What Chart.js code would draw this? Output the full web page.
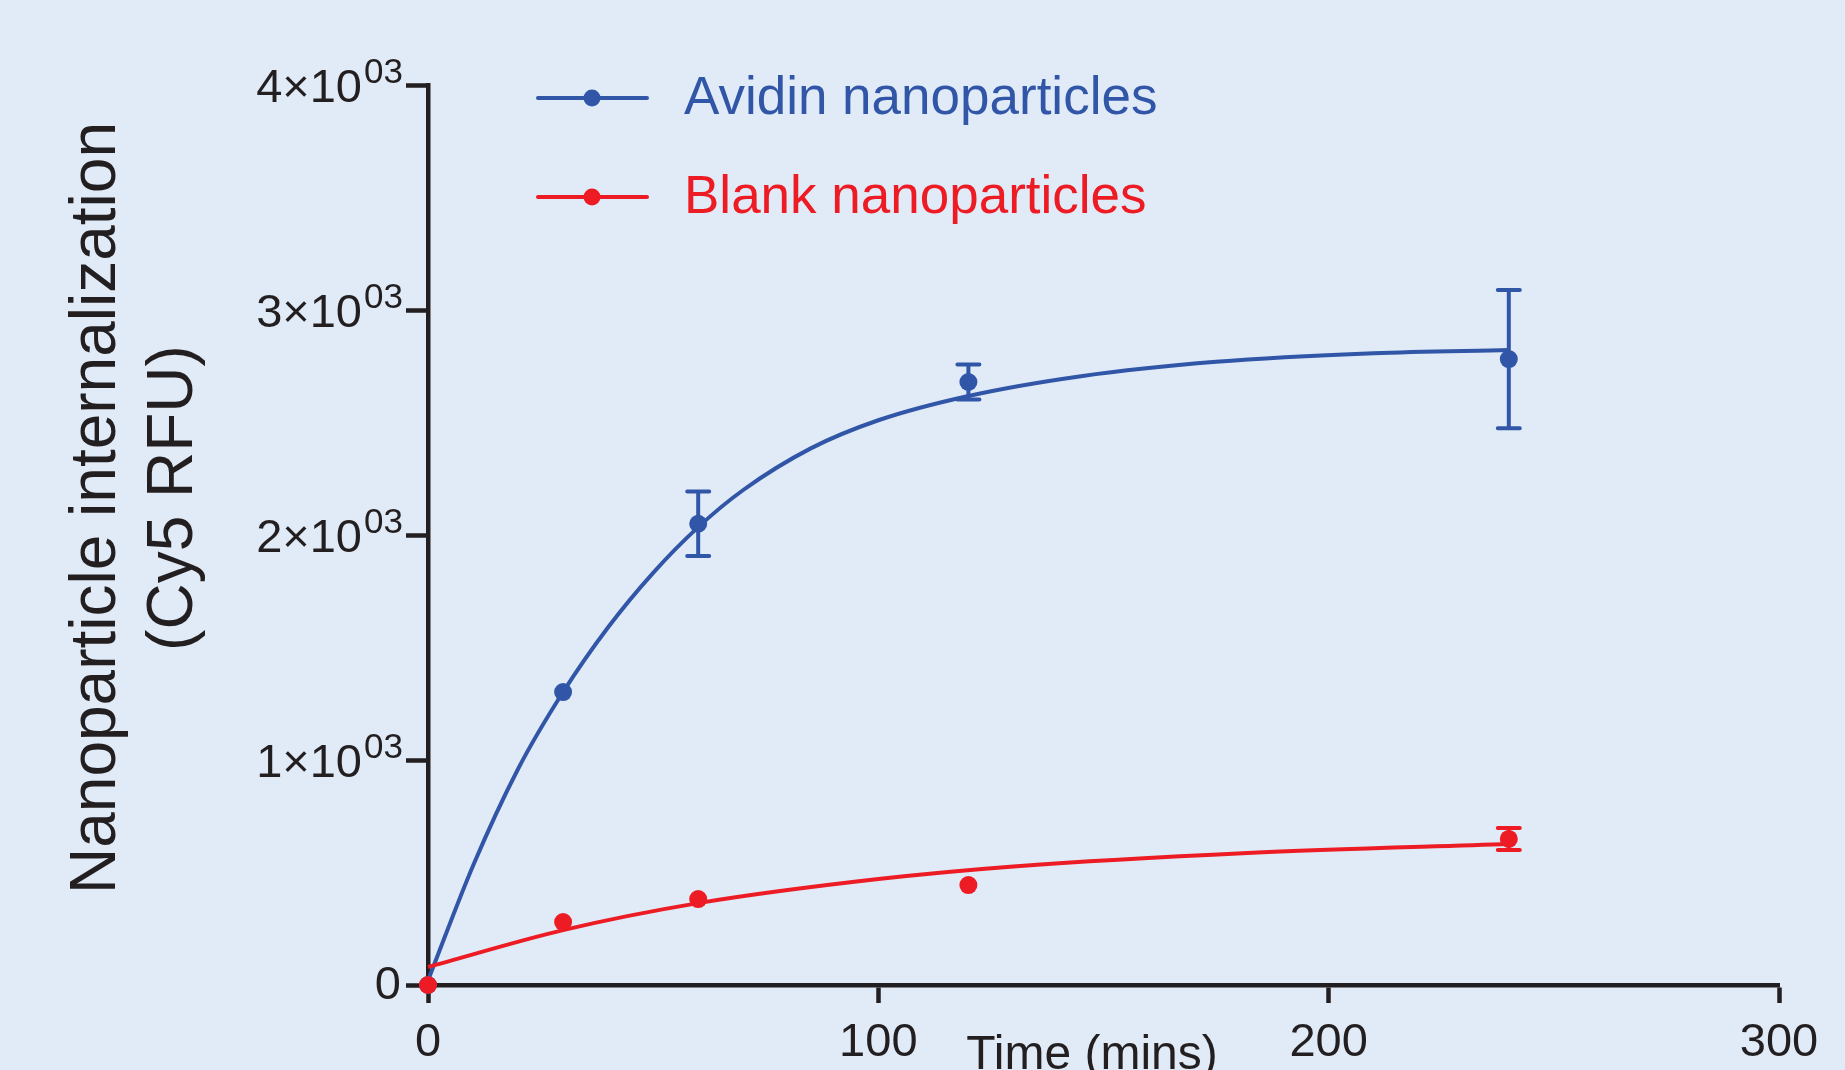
<!DOCTYPE html>
<html>
<head>
<meta charset="utf-8">
<title>Nanoparticle internalization</title>
<script src="https://cdn.jsdelivr.net/npm/chart.js@4.4.1/dist/chart.umd.min.js"></script>
<style>
    html, body { margin: 0; padding: 0; background: #e0ebf7; }
    #wrap { width: 1845px; height: 1070px; }
</style>
</head>
<body>
<div id="wrap"><canvas id="uptakeChart" width="1845" height="1070"></canvas></div>
<script>
// ── Measured data (mean ± SEM) ──
const timePoints = [0, 30, 60, 120, 240];
const avidinMean = [0, 1302, 2050, 2680, 2782];
const avidinErr  = [0, 0, 143, 78, 307];
const blankMean  = [0, 280, 382, 444, 649];
const blankErr   = [0, 0, 0, 0, 49];

// ── Fitted curves ──
const avidinFitTime = [0, 10, 20, 30, 40, 50, 60, 70, 85, 100, 120, 145, 175, 210, 240];
const avidinFitVal  = [20, 530, 960, 1302, 1590, 1832, 2035, 2200, 2385, 2510, 2618, 2706, 2770, 2808, 2822];
const blankFitTime  = [0, 30, 60, 100, 130, 182, 240];
const blankFitVal   = [80, 244, 364, 471, 527, 587, 627];

// ── Axis ticks ──
const xTicks = [0, 100, 200, 300];
const yTicks = [0, 1000, 2000, 3000, 4000];
const yTickBase = '×10';
const yTickExp = '03';

const seriesNames = ['Avidin nanoparticles', 'Blank nanoparticles'];
const BLUE = '#3156a8';
const RED = '#ed1c24';
const INK = '#231f20';
const FONT = '"Liberation Sans", Arial, sans-serif';

const toXY = (xs, ys) => xs.map((x, i) => ({ x: x, y: ys[i] }));

// ── Error bars drawn through the scales ──
const errorBarPlugin = {
    id: 'errorBars',
    afterDatasetsDraw(chart) {
        const { ctx, scales: { x, y } } = chart;
        const sets = [
            { mean: avidinMean, err: avidinErr, color: BLUE },
            { mean: blankMean, err: blankErr, color: RED }
        ];
        ctx.save();
        ctx.lineWidth = 4;
        ctx.lineCap = 'round';
        sets.forEach(s => {
            ctx.strokeStyle = s.color;
            timePoints.forEach((t, i) => {
                if (!s.err[i]) return;
                const px = x.getPixelForValue(t);
                const top = y.getPixelForValue(s.mean[i] + s.err[i]);
                const bot = y.getPixelForValue(s.mean[i] - s.err[i]);
                ctx.beginPath();
                ctx.moveTo(px, top); ctx.lineTo(px, bot);
                ctx.moveTo(px - 11, top); ctx.lineTo(px + 11, top);
                ctx.moveTo(px - 11, bot); ctx.lineTo(px + 11, bot);
                ctx.stroke();
            });
        });
        ctx.restore();
    }
};

// ── Texts: y tick labels with exponent, axis titles, legend ──
const textPlugin = {
    id: 'texts',
    afterDraw(chart) {
        const { ctx, scales: { y } } = chart;
        ctx.save();
        ctx.fillStyle = INK;

        // y tick labels
        y.ticks.forEach(t => {
            const py = y.getPixelForValue(t.value);
            if (t.value === 0) {
                ctx.font = `47px ${FONT}`;
                ctx.textAlign = 'right';
                ctx.textBaseline = 'middle';
                ctx.fillText('0', 401, py + 1);
                return;
            }
            ctx.font = `47px ${FONT}`;
            ctx.textAlign = 'right';
            ctx.textBaseline = 'alphabetic';
            ctx.fillText((t.value / 1000) + yTickBase, 362, py + 17);
            ctx.font = `35px ${FONT}`;
            ctx.textAlign = 'left';
            ctx.fillText(yTickExp, 364, py - 2);
        });

        // y title (two lines, rotated)
        ctx.font = `64px ${FONT}`;
        ctx.textAlign = 'center';
        ctx.textBaseline = 'alphabetic';
        [['Nanoparticle internalization', 115, 508], ['(Cy5 RFU)', 192, 498]].forEach(([txt, bx, cy]) => {
            ctx.save();
            ctx.translate(bx, cy);
            ctx.rotate(-Math.PI / 2);
            ctx.fillText(txt, 0, 0);
            ctx.restore();
        });

        // x title
        ctx.font = `48px ${FONT}`;
        ctx.fillText('Time (mins)', 1092, 1069);

        // legend
        const rows = [[seriesNames[0], BLUE, 98], [seriesNames[1], RED, 197]];
        rows.forEach(([label, color, ly]) => {
            ctx.strokeStyle = color;
            ctx.fillStyle = color;
            ctx.lineWidth = 4;
            ctx.lineCap = 'round';
            ctx.beginPath();
            ctx.moveTo(538, ly); ctx.lineTo(647, ly);
            ctx.stroke();
            ctx.beginPath();
            ctx.arc(592, ly, 8.5, 0, Math.PI * 2);
            ctx.fill();
            ctx.font = `53px ${FONT}`;
            ctx.textAlign = 'left';
            ctx.textBaseline = 'middle';
            ctx.fillText(label, 684, ly + 1);
        });
        ctx.restore();
    }
};

new Chart(document.getElementById('uptakeChart').getContext('2d'), {
    type: 'scatter',
    data: {
        datasets: [
            {
                label: seriesNames[1],
                data: toXY(timePoints, blankMean),
                backgroundColor: RED, borderColor: RED,
                pointRadius: 9, pointHoverRadius: 9, borderWidth: 0,
                showLine: false, clip: false
            },
            {
                label: seriesNames[0],
                data: toXY(timePoints, avidinMean),
                backgroundColor: BLUE, borderColor: BLUE,
                pointRadius: 9, pointHoverRadius: 9, borderWidth: 0,
                showLine: false, clip: false
            },
            {
                label: 'Blank fit',
                type: 'line',
                data: toXY(blankFitTime, blankFitVal),
                borderColor: RED, borderWidth: 4,
                pointRadius: 0, cubicInterpolationMode: 'monotone',
                fill: false, clip: false
            },
            {
                label: 'Avidin fit',
                type: 'line',
                data: toXY(avidinFitTime, avidinFitVal),
                borderColor: BLUE, borderWidth: 4,
                pointRadius: 0, cubicInterpolationMode: 'monotone',
                fill: false, clip: false
            }
        ]
    },
    options: {
        responsive: false,
        animation: false,
        layout: { padding: { top: 85, right: 66, left: 0, bottom: 0 } },
        plugins: { legend: { display: false }, tooltip: { enabled: false } },
        scales: {
            x: {
                type: 'linear',
                min: 0, max: 300,
                afterBuildTicks: s => { s.ticks = xTicks.map(v => ({ value: v })); },
                afterFit: s => { s.height = 85; },
                ticks: {
                    color: INK,
                    padding: 12,
                    font: { family: FONT, size: 47 },
                    maxRotation: 0
                },
                grid: {
                    drawOnChartArea: false,
                    drawTicks: true,
                    tickLength: 18,
                    tickWidth: 4.5,
                    tickColor: INK
                },
                border: { color: INK, width: 4.5 }
            },
            y: {
                type: 'linear',
                min: 0, max: 4000,
                afterBuildTicks: s => { s.ticks = yTicks.map(v => ({ value: v })); },
                afterFit: s => { s.width = 428; },
                ticks: { display: false },
                grid: {
                    drawOnChartArea: false,
                    drawTicks: true,
                    tickLength: 22,
                    tickWidth: 4.5,
                    tickColor: INK
                },
                border: { color: INK, width: 4.5 }
            }
        }
    },
    plugins: [errorBarPlugin, textPlugin]
});
</script>
</body>
</html>
